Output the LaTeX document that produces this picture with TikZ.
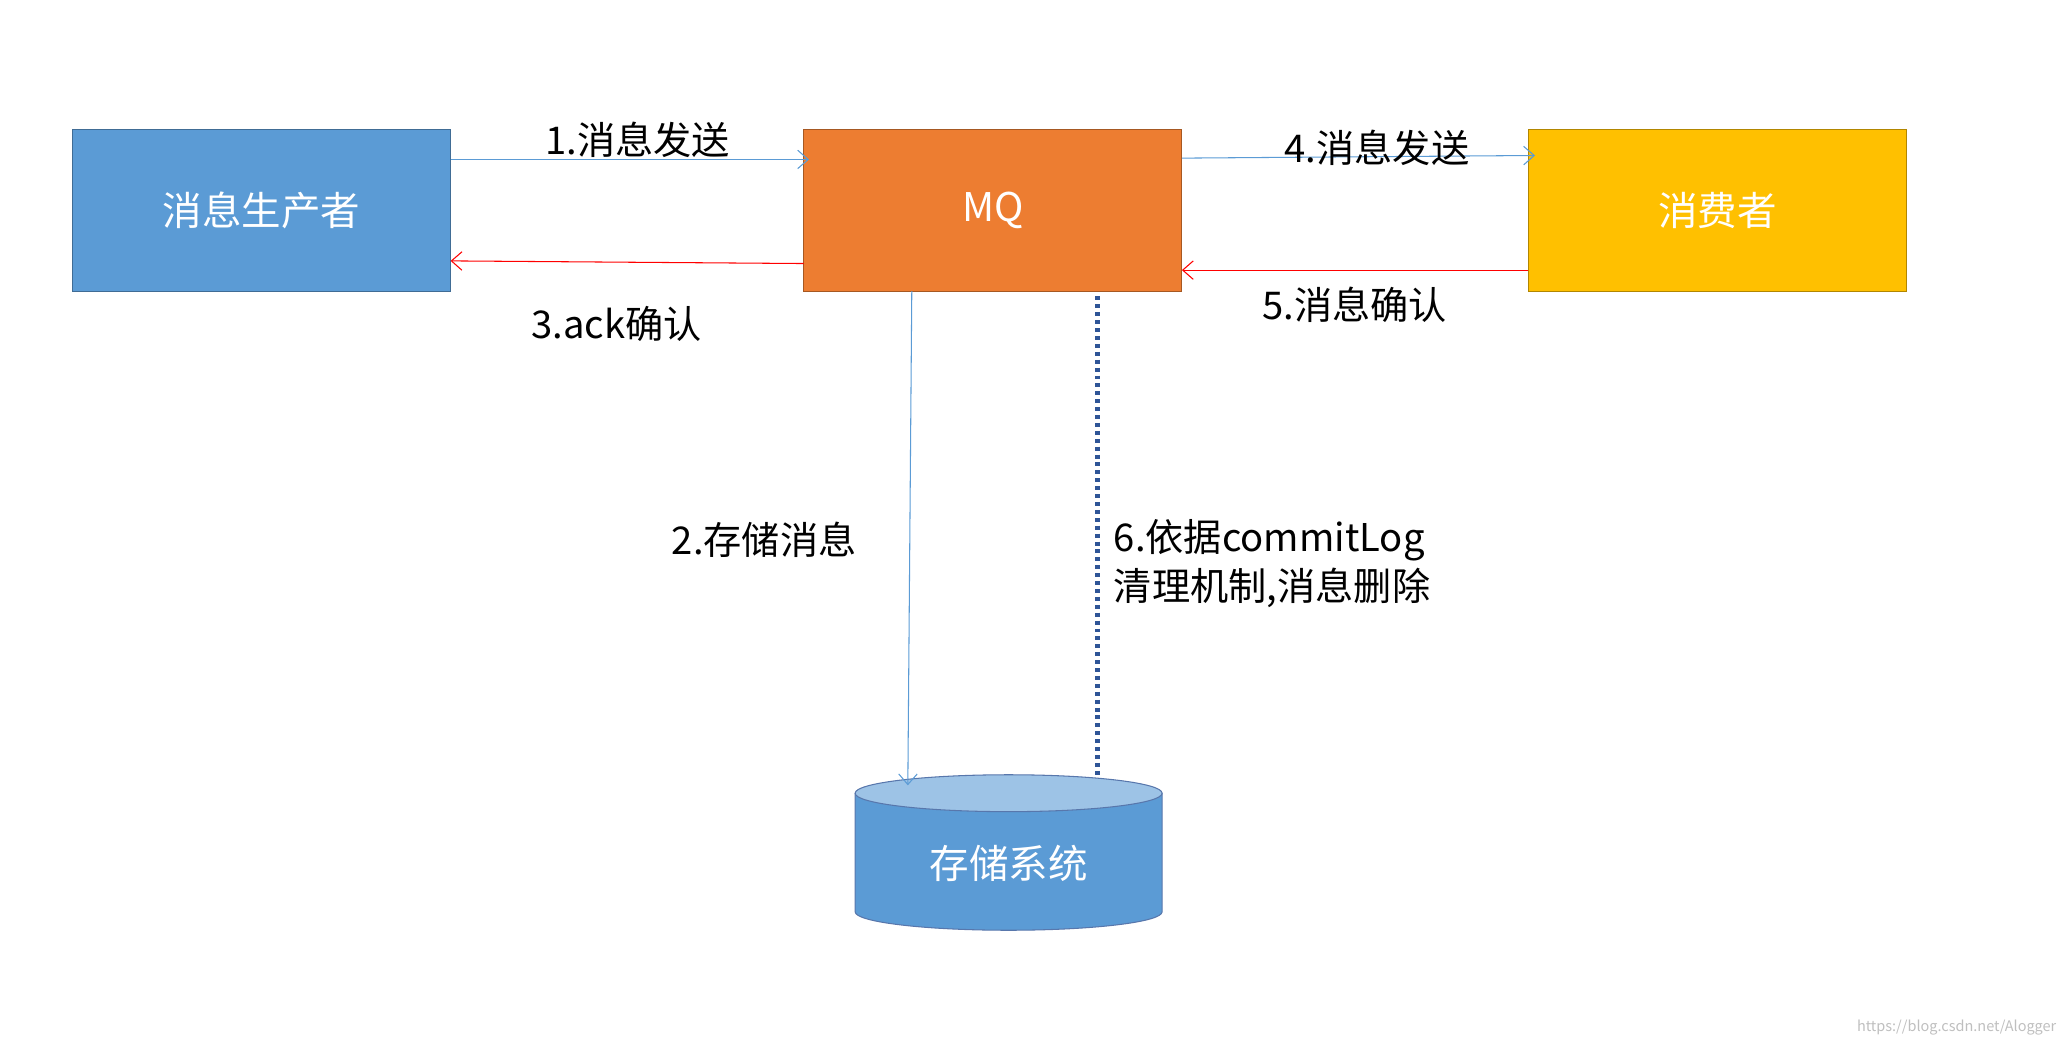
\documentclass[tikz,border=0pt]{standalone}
\usepackage{fontspec}
\setmainfont{Noto Sans CJK SC}
\usetikzlibrary{arrows.meta,shapes.geometric}
\definecolor{pblue}{HTML}{5B9BD5}
\definecolor{porange}{HTML}{ED7D31}
\definecolor{pyellow}{HTML}{FFC000}
\definecolor{ptop}{HTML}{9DC3E6}
\definecolor{pdark}{HTML}{2F5597}
\begin{document}
\begin{tikzpicture}[x=0.5pt,y=-0.5pt,
  box/.style={draw=#1!70!black,fill=#1,minimum width=143.5pt,minimum height=61.5pt,inner sep=0pt,text=white,font=\fontsize{15}{18}\selectfont},
  lbl/.style={font=\fontsize{14.5}{17}\selectfont,inner sep=0pt},
  blu/.style={draw=pblue,-{Straight Barb[length=4pt,width=7pt]}},
  rd/.style={draw=red,-{Straight Barb[length=4pt,width=7pt]}}]
\useasboundingbox (0,0) rectangle (1568,794);
\node[box=pblue] (p) at (198.5,159.5) {消息生产者};
\node[box=porange] (mq) at (753.5,159.5) {MQ};
\node[box=pyellow] (c) at (1303.5,159.5) {消费者};
% cylinder
\fill[pblue] (649,602) -- (649,692) arc[x radius=116.5,y radius=14,start angle=180,end angle=0] -- (882,602) -- cycle;
\draw[pdark!80] (649,602) -- (649,692) arc[x radius=116.5,y radius=14,start angle=180,end angle=0] -- (882,602);
\draw[pdark!80,fill=ptop] (765.5,602) ellipse[x radius=116.5,y radius=14];
\node[text=white,font=\fontsize{15}{18}\selectfont] (s) at (765.5,655) {存储系统};
\coordinate (stop) at (689,596);
\coordinate (dtop) at (833,225);
\coordinate (dbot) at (833,590);
\draw[blu] (p.east|-0,121) -- (614,121);
\draw[rd] (610,200) -- (342,198);
\draw[blu] (897,120) -- (1165,118);
\draw[rd] (1160,205) -- (897,205);
\draw[blu] (692,221) -- (stop);
\draw[pdark,line width=2pt,dash pattern=on 1.5pt off 1.5pt] (dtop) -- (dbot);
\node[lbl] at (484,106) {1.消息发送};
\node[lbl] at (468,246) {3.ack确认};
\node[lbl] at (1045,112) {4.消息发送};
\node[lbl] at (1028,231) {5.消息确认};
\node[lbl] at (580,410) {2.存储消息};
\node[lbl,anchor=west] at (845,410) {6.依据commitLog};
\node[lbl,anchor=west] at (845,446) {清理机制,消息删除};
\node[font=\fontsize{5.5}{7}\selectfont,text=black!25,inner sep=0pt] at (1485,780) {https://blog.csdn.net/Alogger};
\end{tikzpicture}
\end{document}
